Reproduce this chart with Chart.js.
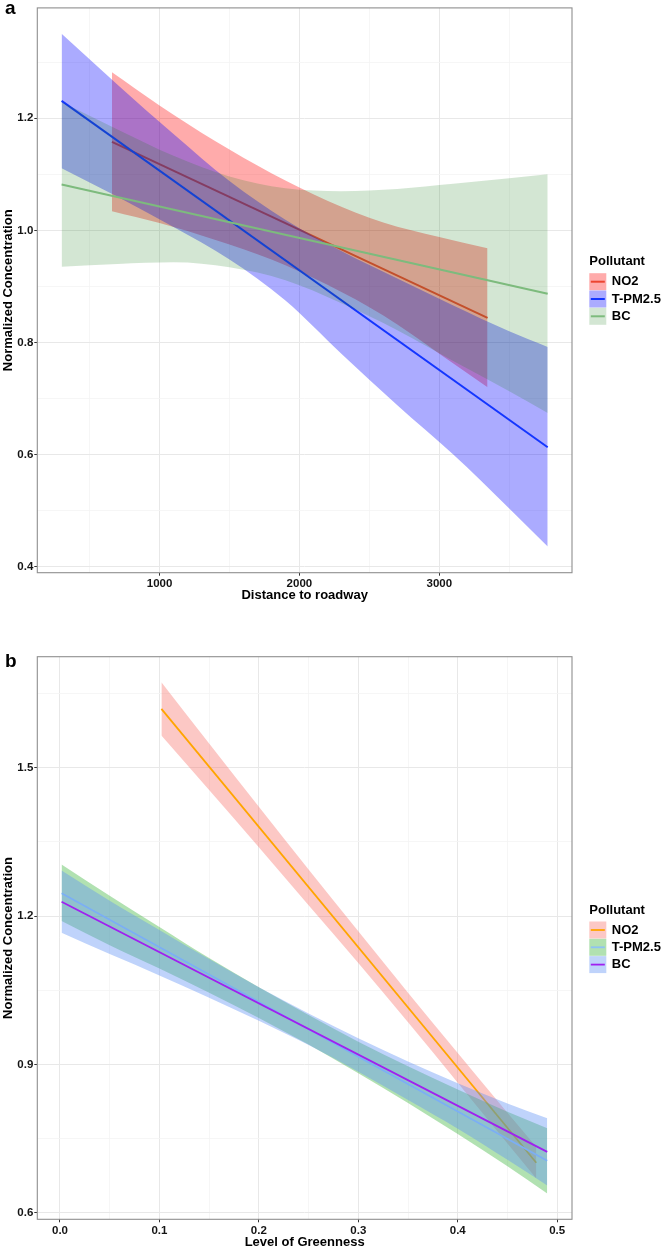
<!DOCTYPE html>
<html><head><meta charset="utf-8">
<script src="https://cdn.jsdelivr.net/npm/chart.js@4.4.1/dist/chart.umd.min.js"></script>
<style>
html,body{margin:0;padding:0;background:#fff;}
body{width:663px;height:1249px;position:relative;overflow:hidden;}
canvas{position:absolute;left:0;}
#ca{top:0;width:663px;height:605px;}
#cb{top:620px;width:663px;height:629px;}
</style></head><body>
<canvas id="ca" width="663" height="605"></canvas>
<canvas id="cb" width="663" height="629"></canvas>
<script>
// ---------- Panel a : Distance to roadway ----------
const aNames = ['NO2', 'T-PM2.5', 'BC'];
const aNO2LineX = [660, 3345];
const aNO2LineY = [1.158, 0.844];
const aNO2BandX = [660, 1000, 1400, 1800, 2200, 2600, 3000, 3345];
const aNO2Upper = [1.282, 1.223, 1.159, 1.102, 1.053, 1.014, 0.988, 0.968];
const aNO2Lower = [1.034, 1.013, 0.983, 0.948, 0.903, 0.848, 0.780, 0.720];

const aPMLineX = [300, 3775];
const aPMLineY = [1.231, 0.613];
const aPMBandX = [300, 700, 1100, 1500, 1900, 2300, 2700, 3100, 3500, 3775];
const aPMUpper = [1.351, 1.260, 1.172, 1.088, 1.019, 0.963, 0.914, 0.866, 0.820, 0.792];
const aPMLower = [1.111, 1.060, 1.006, 0.948, 0.875, 0.780, 0.688, 0.600, 0.504, 0.436];

const aBCLineX = [300, 3775];
const aBCLineY = [1.082, 0.887];
const aBCBandX = [300, 700, 1100, 1500, 1900, 2300, 2700, 3100, 3500, 3775];
const aBCUpper = [1.229, 1.180, 1.133, 1.096, 1.075, 1.070, 1.074, 1.083, 1.093, 1.100];
const aBCLower = [0.935, 0.940, 0.943, 0.934, 0.911, 0.870, 0.822, 0.767, 0.713, 0.674];

const aXMajor = [1000, 2000, 3000];
const aXMinor = [500, 1500, 2500, 3500];
const aYMajor = [0.4, 0.6, 0.8, 1.0, 1.2];
const aYMinor = [0.5, 0.7, 0.9, 1.1, 1.3];

// ---------- Panel b : Level of Greenness ----------
const bNames = ['NO2', 'T-PM2.5', 'BC'];
const bNO2LineX = [0.102, 0.479];
const bNO2LineY = [1.619, 0.701];
const bNO2BandX = [0.102, 0.15, 0.2, 0.25, 0.3, 0.35, 0.4, 0.45, 0.479];
const bNO2Upper = [1.673, 1.549, 1.421, 1.294, 1.169, 1.045, 0.923, 0.802, 0.733];
const bNO2Lower = [1.565, 1.455, 1.339, 1.222, 1.105, 0.985, 0.863, 0.740, 0.669];

const bPMLineX = [0.0016, 0.49];
const bPMLineY = [1.246, 0.705];
const bPMBandX = [0.0016, 0.05, 0.1, 0.15, 0.2, 0.25, 0.3, 0.35, 0.4, 0.45, 0.49];
const bPMUpper = [1.304, 1.241, 1.178, 1.115, 1.056, 1.000, 0.946, 0.896, 0.849, 0.804, 0.771];
const bPMLower = [1.190, 1.141, 1.094, 1.045, 0.994, 0.940, 0.882, 0.822, 0.759, 0.694, 0.639];

const bBCLineX = [0.0016, 0.49];
const bBCLineY = [1.229, 0.723];
const bBCBandX = [0.0016, 0.05, 0.1, 0.15, 0.2, 0.25, 0.3, 0.35, 0.4, 0.45, 0.49];
const bBCUpper = [1.292, 1.231, 1.172, 1.113, 1.056, 1.003, 0.953, 0.906, 0.862, 0.821, 0.791];
const bBCLower = [1.166, 1.123, 1.080, 1.035, 0.988, 0.939, 0.885, 0.828, 0.770, 0.707, 0.655];

const bXMajor = [0.0, 0.1, 0.2, 0.3, 0.4, 0.5];
const bXMinor = [0.05, 0.15, 0.25, 0.35, 0.45];
const bYMajor = [0.6, 0.9, 1.2, 1.5];
const bYMinor = [0.75, 1.05, 1.35, 1.65];

// ---------- styles ----------
const FONT = '"Liberation Sans", Arial, sans-serif';
const aLineColors = ['#EC4530', '#1436FF', '#7DBB7D'];
const aFillColors = ['rgba(255,0,0,0.33)', 'rgba(0,0,255,0.33)', 'rgba(20,120,20,0.19)'];
const bLineColors = ['#FFA500', '#8EC2F5', '#A020F0'];
const bFillColors = ['rgba(248,118,109,0.4)', 'rgba(60,180,60,0.4)', 'rgba(95,145,245,0.4)'];

function pts(xs, ys) { return xs.map((x, i) => ({ x: x, y: ys[i] })); }

function buildDatasets(series, lw) {
  // pushed in reverse so that the first series is drawn first (bottom)
  const ds = [];
  for (let k = series.length - 1; k >= 0; k--) {
    const s = series[k];
    ds.push({ data: pts(s.lx, s.ly), borderColor: s.line, borderWidth: lw, pointRadius: 0, fill: false, tension: 0 });
    ds.push({ data: pts(s.bx, s.up), borderWidth: 0, borderColor: 'rgba(0,0,0,0)', backgroundColor: s.fill, pointRadius: 0, fill: '+1', cubicInterpolationMode: 'monotone' });
    ds.push({ data: pts(s.bx, s.lo), borderWidth: 0, borderColor: 'rgba(0,0,0,0)', pointRadius: 0, fill: false, cubicInterpolationMode: 'monotone' });
  }
  return ds;
}

const decor = {
  id: 'decor',
  afterDraw(chart, args, o) {
    const { ctx, chartArea: ca } = chart;
    ctx.save();
    ctx.strokeStyle = '#8f8f8f'; ctx.lineWidth = 1.1;
    ctx.strokeRect(ca.left, ca.top, ca.right - ca.left, ca.bottom - ca.top);
    ctx.fillStyle = '#000'; ctx.textAlign = 'left'; ctx.textBaseline = 'alphabetic';
    ctx.font = 'bold 19px ' + FONT;
    ctx.fillText(o.tag, o.tagX, o.tagY);
    ctx.textBaseline = 'middle';
    ctx.font = 'bold 13px ' + FONT;
    ctx.fillText(o.title, o.lx, o.titleY);
    o.items.forEach((it, i) => {
      const cy = o.itemY0 + i * o.itemStep;
      ctx.fillStyle = it.fill; ctx.fillRect(o.lx, cy - 8.5, 17, 17);
      ctx.strokeStyle = it.line; ctx.lineWidth = it.lw;
      ctx.beginPath(); ctx.moveTo(o.lx + 1.5, cy); ctx.lineTo(o.lx + 15.5, cy); ctx.stroke();
      ctx.fillStyle = '#000'; ctx.fillText(it.name, o.lx + 22.5, cy);
    });
    ctx.restore();
  }
};

function makeAxis(range, major, minor, fmt, size, title, titlePad, isY, labelPad) {
  const all = major.concat(minor).sort((p, q) => p - q);
  const isMajor = v => major.some(m => Math.abs(m - v) < 1e-9);
  return {
    type: 'linear', min: range[0], max: range[1],
    afterBuildTicks: s => { s.ticks = all.map(v => ({ value: v })); },
    afterFit: s => { if (isY) s.width = size; else s.height = size; },
    ticks: { autoSkip: false, maxRotation: 0, minRotation: 0, padding: labelPad, color: '#141414',
      font: { family: FONT, size: 11.5, weight: 'bold' },
      callback: v => isMajor(v) ? fmt(v) : '' },
    grid: {
      color: c => isMajor(c.tick.value) ? '#e8e8e8' : '#f4f4f4',
      lineWidth: c => isMajor(c.tick.value) ? 1 : 0.8,
      drawTicks: true, tickLength: 3, tickWidth: 1,
      tickColor: c => isMajor(c.tick.value) ? '#333' : 'rgba(0,0,0,0)'
    },
    border: { display: false },
    title: { display: true, text: title, color: '#000', font: { family: FONT, size: 13, weight: 'bold' }, padding: titlePad }
  };
}

function makeChart(id, series, lw, opt) {
  return new Chart(document.getElementById(id), {
    type: 'line',
    data: { datasets: buildDatasets(series, lw) },
    options: {
      responsive: false, devicePixelRatio: 1, animation: false, events: [],
      layout: { padding: { left: 0, right: 91, top: opt.top, bottom: 0 } },
      plugins: { legend: { display: false }, tooltip: { enabled: false }, decor: opt.decor },
      scales: { x: opt.x, y: opt.y }
    },
    plugins: [decor]
  });
}

const seriesA = [
  { lx: aNO2LineX, ly: aNO2LineY, bx: aNO2BandX, up: aNO2Upper, lo: aNO2Lower, line: aLineColors[0], fill: aFillColors[0] },
  { lx: aPMLineX, ly: aPMLineY, bx: aPMBandX, up: aPMUpper, lo: aPMLower, line: aLineColors[1], fill: aFillColors[1] },
  { lx: aBCLineX, ly: aBCLineY, bx: aBCBandX, up: aBCUpper, lo: aBCLower, line: aLineColors[2], fill: aFillColors[2] }
];
const seriesB = [
  { lx: bNO2LineX, ly: bNO2LineY, bx: bNO2BandX, up: bNO2Upper, lo: bNO2Lower, line: bLineColors[0], fill: bFillColors[0] },
  { lx: bPMLineX, ly: bPMLineY, bx: bPMBandX, up: bPMUpper, lo: bPMLower, line: bLineColors[1], fill: bFillColors[1] },
  { lx: bBCLineX, ly: bBCLineY, bx: bBCBandX, up: bBCUpper, lo: bBCLower, line: bLineColors[2], fill: bFillColors[2] }
];

makeChart('ca', seriesA, 2, {
  top: 6.7,
  x: makeAxis([126.25, 3948.75], aXMajor, aXMinor, v => String(v), 32.3, 'Distance to roadway', { top: 0, bottom: 1.5 }, false, 1.5),
  y: makeAxis([0.3893, 1.3969], aYMajor, aYMinor, v => v.toFixed(1), 37.3, 'Normalized Concentration', { top: 0.5, bottom: 0 }, true, 1),
  decor: { tag: 'a', tagX: 5, tagY: 13.5, title: 'Pollutant', lx: 589.3, titleY: 261.7, itemY0: 281.7, itemStep: 17.3,
    items: aNames.map((n, i) => ({ name: n, fill: aFillColors[i], line: aLineColors[i], lw: 2 })) }
});

makeChart('cb', seriesB, 1.8, {
  top: 36.7,
  x: makeAxis([-0.0228, 0.5149], bXMajor, bXMinor, v => v.toFixed(1), 29.7, 'Level of Greenness', { top: 0, bottom: -1 }, false, 1.5),
  y: makeAxis([0.5867, 1.7245], bYMajor, bYMinor, v => v.toFixed(1), 37.3, 'Normalized Concentration', { top: 0.5, bottom: 0 }, true, 1),
  decor: { tag: 'b', tagX: 5, tagY: 47, title: 'Pollutant', lx: 589.3, titleY: 290, itemY0: 310, itemStep: 17.3,
    items: bNames.map((n, i) => ({ name: n, fill: bFillColors[i], line: bLineColors[i], lw: 1.8 })) }
});
</script>
</body></html>
